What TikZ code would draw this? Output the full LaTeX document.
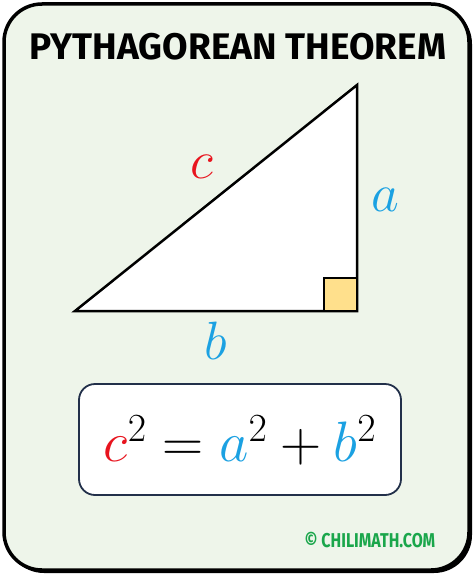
\RequirePackage{fix-cm}
\documentclass[tikz,border=0pt]{standalone}
\usepackage{fontspec}
\setmainfont{Fira Sans}
\definecolor{paper}{HTML}{EEF5EA}
\definecolor{sidered}{HTML}{E8141E}
\definecolor{sideblue}{HTML}{1BA1E2}
\definecolor{corner}{HTML}{FFE08C}
\definecolor{boxline}{HTML}{22304A}
\definecolor{chili}{HTML}{1AA64B}
\tikzset{
  side/.style={font=\fontsize{54}{58}\selectfont},
  title/.style={font=\fontsize{37}{40}\selectfont\bfseries},
}
\begin{document}
\begin{tikzpicture}[x=1pt,y=-1pt]
\useasboundingbox (0,0) rectangle (474,575);
% card
\fill[black, rounded corners=38pt] (6,6) rectangle (472,573);
\draw[line width=3.5pt, fill=paper, rounded corners=38pt] (4,4) rectangle (469,570);
\node[title] (head) at (238,47) {PYTHAGOREAN THEOREM};
% triangle
\draw[line width=2.5pt, fill=white, line join=miter] (75,311) -- (357,311) -- (357,85) -- cycle;
\draw[line width=1.3pt, fill=corner] (324,278) rectangle (357,311);
\node[side] (c) at (202,167) {$\textcolor{sidered}{c}$};
\node[side] (a) at (385,200) {$\textcolor{sideblue}{a}$};
\node[side] (b) at (216,341) {$\textcolor{sideblue}{b}$};
% formula
\node[draw=boxline, line width=1.8pt, fill=white, rounded corners=16pt,
  minimum width=322pt, minimum height=111pt] (box) at (240,439.5) {};
\node[font=\fontsize{57}{60}\selectfont] (law) at ([yshift=-1pt]box.center)
  {$\textcolor{sidered}{c}^2=\textcolor{sideblue}{a}^2+\textcolor{sideblue}{b}^2$};
\node[text=chili, font=\fontsize{20}{22}\selectfont\bfseries] (credit) at (370,540)
  {\scalebox{0.8}[1]{© CHILIMATH.COM}};
\end{tikzpicture}
\end{document}
